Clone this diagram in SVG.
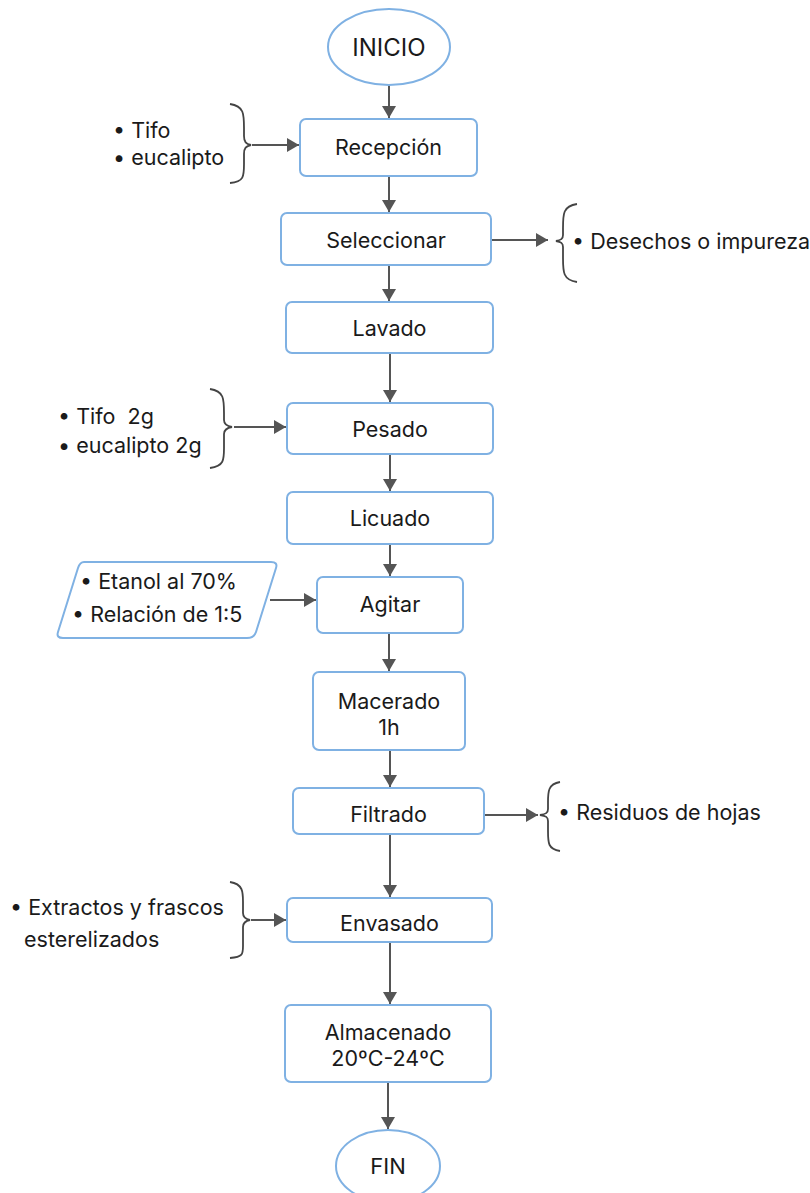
<svg xmlns="http://www.w3.org/2000/svg" width="810" height="1193" viewBox="0 0 810 1193">
<style>
.box{fill:#fff;stroke:#7fb1e3;stroke-width:2}
.t{font-family:Inter,"Noto Sans","Liberation Sans",sans-serif;font-size:21.5px;fill:#1a1a1a}
.c{text-anchor:middle}
.ln{stroke:#555;stroke-width:2;fill:none}
.br{stroke:#444;stroke-width:1.8;fill:none}
</style>
<defs>
<marker id="ah" viewBox="0 0 12 14" markerWidth="12" markerHeight="14" refX="12" refY="7" orient="auto" markerUnits="userSpaceOnUse">
<path d="M0,0 L12,7 L0,14 Z" fill="#555"/>
</marker>
</defs>
<rect width="810" height="1193" fill="#fff"/>
<g id="connectors">
<line class="ln" x1="389" y1="85" x2="389" y2="118" marker-end="url(#ah)"/>
<line class="ln" x1="389" y1="177" x2="389" y2="212" marker-end="url(#ah)"/>
<line class="ln" x1="389" y1="266" x2="389" y2="301" marker-end="url(#ah)"/>
<line class="ln" x1="390" y1="354" x2="390" y2="402" marker-end="url(#ah)"/>
<line class="ln" x1="390" y1="455" x2="390" y2="491" marker-end="url(#ah)"/>
<line class="ln" x1="390" y1="545" x2="390" y2="576" marker-end="url(#ah)"/>
<line class="ln" x1="389" y1="634" x2="389" y2="671" marker-end="url(#ah)"/>
<line class="ln" x1="390" y1="751" x2="390" y2="787" marker-end="url(#ah)"/>
<line class="ln" x1="390" y1="835" x2="390" y2="897" marker-end="url(#ah)"/>
<line class="ln" x1="390" y1="943" x2="390" y2="1004" marker-end="url(#ah)"/>
<line class="ln" x1="388" y1="1083" x2="388" y2="1129" marker-end="url(#ah)"/>
<line class="ln" x1="252" y1="145" x2="299" y2="145" marker-end="url(#ah)"/>
<line class="ln" x1="492" y1="240" x2="548" y2="240" marker-end="url(#ah)"/>
<line class="ln" x1="234" y1="427" x2="286" y2="427" marker-end="url(#ah)"/>
<line class="ln" x1="270" y1="600" x2="316" y2="600" marker-end="url(#ah)"/>
<line class="ln" x1="485" y1="815" x2="538" y2="815" marker-end="url(#ah)"/>
<line class="ln" x1="251" y1="920" x2="286" y2="920" marker-end="url(#ah)"/>
</g>
<g id="inicio">
<ellipse class="box" cx="389" cy="47" rx="61" ry="38"/>
<text class="t c" x="389" y="56" style="font-size:24px">INICIO</text>
</g>
<g id="recepcion">
<rect class="box" x="300" y="119" width="177" height="57" rx="6"/>
<text class="t c" x="388.5" y="155">Recepción</text>
</g>
<g id="entrada1">
<path class="br" d="M230,104 C244,106 244,114 244,128 L244,136 C244,142 246,144 251,145 C246,146 244,148 244,154 L244,164 C244,176 244,182 230,183"/>
<text class="t" x="113" y="138">• Tifo</text>
<text class="t" x="113" y="165">• eucalipto</text>
</g>
<g id="seleccionar">
<rect class="box" x="281" y="213" width="210" height="52" rx="6"/>
<text class="t c" x="386" y="248">Seleccionar</text>
</g>
<g id="salida1">
<path class="br" d="M577,204 C563,206 563,214 563,228 L563,235 C563,239 561,240 556,241 C561,242 563,243 563,247 L563,258 C563,272 563,280 577,282"/>
<text class="t" x="572" y="249">• Desechos o impurezas</text>
</g>
<g id="lavado">
<rect class="box" x="286" y="302" width="207" height="51" rx="6"/>
<text class="t c" x="389.5" y="336">Lavado</text>
</g>
<g id="pesado">
<rect class="box" x="287" y="403" width="206" height="51" rx="6"/>
<text class="t c" x="390" y="437">Pesado</text>
</g>
<g id="entrada2">
<path class="br" d="M210,389 C224,391 224,399 224,413 L224,420 C224,424 226,426 232,427 C226,428 224,430 224,434 L224,448 C224,460 224,466 210,468"/>
<text class="t" x="58" y="424">• Tifo&#160; 2g</text>
<text class="t" x="58" y="453">• eucalipto 2g</text>
</g>
<g id="licuado">
<rect class="box" x="287" y="492" width="206" height="52" rx="6"/>
<text class="t c" x="390" y="526">Licuado</text>
</g>
<g id="agitar">
<rect class="box" x="317" y="577" width="146" height="56" rx="6"/>
<text class="t c" x="390" y="612">Agitar</text>
</g>
<g id="entrada3">
<path class="box" d="M84,562 L271,562 Q278,562 276,568 L256,632 Q254,638 247,638 L63,638 Q56,638 58,632 L78,568 Q80,562 84,562 Z"/>
<text class="t" x="80" y="589">• Etanol al 70%</text>
<text class="t" x="72" y="622">• Relación de 1:5</text>
</g>
<g id="macerado">
<rect class="box" x="313" y="672" width="152" height="78" rx="6"/>
<text class="t c" x="389" y="709">Macerado</text>
<text class="t c" x="389" y="735">1h</text>
</g>
<g id="filtrado">
<rect class="box" x="293" y="788" width="191" height="46" rx="6"/>
<text class="t c" x="388.5" y="822">Filtrado</text>
</g>
<g id="salida2">
<path class="br" d="M560,782 C548,784 548,792 548,802 L548,809 C548,813 546,814 540,815 C546,816 548,817 548,821 L548,831 C548,843 548,849 560,851"/>
<text class="t" x="558" y="820">• Residuos de hojas</text>
</g>
<g id="envasado">
<rect class="box" x="287" y="898" width="205" height="44" rx="6"/>
<text class="t c" x="389.5" y="931">Envasado</text>
</g>
<g id="entrada4">
<path class="br" d="M230,882 C243,884 243,892 243,902 L243,913 C243,917 245,919 250,920 C245,921 243,923 243,927 L243,946 C243,954 243,957 230,958"/>
<text class="t" x="10" y="915">• Extractos y frascos</text>
<text class="t" x="24" y="947">esterelizados</text>
</g>
<g id="almacenado">
<rect class="box" x="285" y="1005" width="206" height="77" rx="6"/>
<text class="t c" x="388" y="1040">Almacenado</text>
<text class="t c" x="388" y="1066">20ºC-24ºC</text>
</g>
<g id="fin">
<ellipse class="box" cx="388" cy="1166" rx="52" ry="36"/>
<text class="t c" x="388" y="1174" style="font-size:22px">FIN</text>
</g>
</svg>
